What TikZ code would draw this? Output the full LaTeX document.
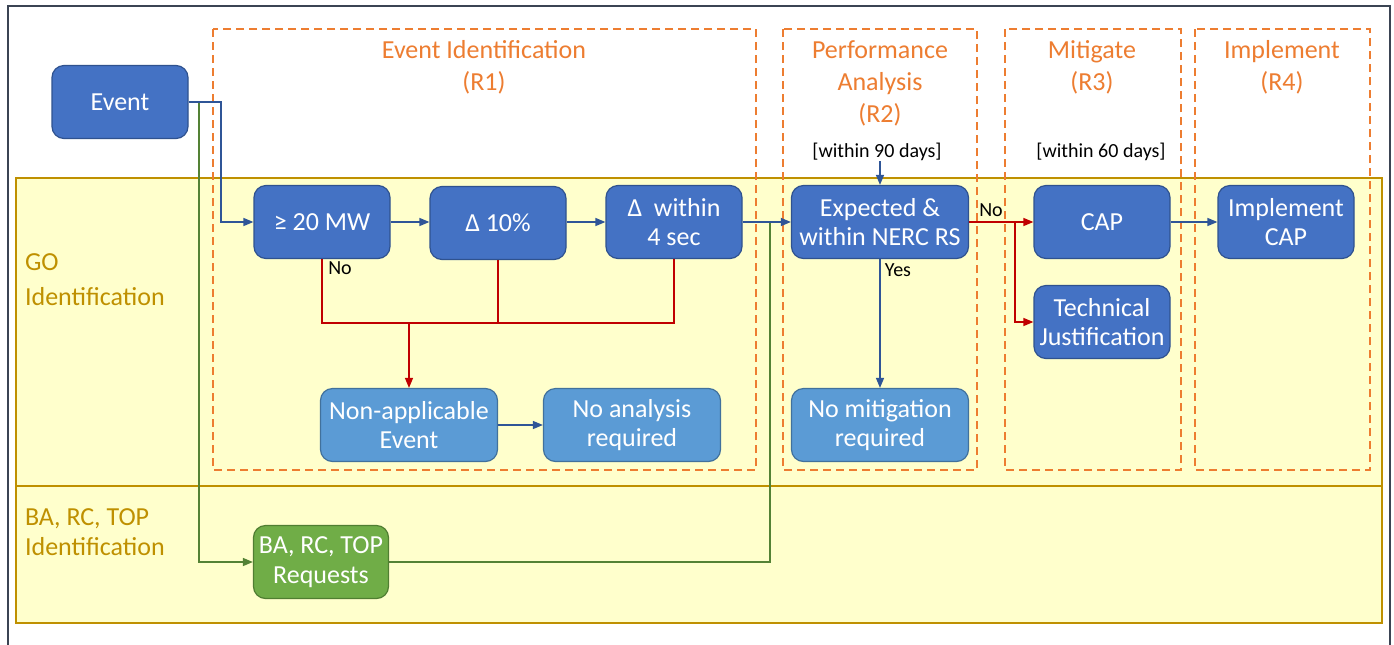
\documentclass[tikz,border=0pt]{standalone}
\usepackage{fontspec}
\setmainfont{Carlito}
\usetikzlibrary{arrows.meta}
\definecolor{nodeblue}{HTML}{4472C4}
\definecolor{nodeborder}{HTML}{2F528F}
\definecolor{lightblue}{HTML}{5B9BD5}
\definecolor{lightborder}{HTML}{41719C}
\definecolor{nodegreen}{HTML}{70AD47}
\definecolor{greenborder}{HTML}{507E32}
\definecolor{laneyellow}{HTML}{FFFFCC}
\definecolor{lanegold}{HTML}{BF9000}
\definecolor{dashorange}{HTML}{ED7D31}
\definecolor{arrowred}{HTML}{C00000}
\definecolor{arrowblue}{HTML}{2F5597}
\definecolor{arrowgreen}{HTML}{548235}
\definecolor{framegray}{HTML}{3B4453}
\begin{document}
\begin{tikzpicture}[x=0.5pt,y=-0.5pt,
  box/.style={rounded corners=6pt, draw=nodeborder, fill=nodeblue, line width=0.6pt,
    text=white, align=center, font=\fontsize{13}{14.8}\selectfont,
    minimum width=68pt, minimum height=36.5pt, inner sep=1pt},
  widebox/.style={box, minimum width=88.5pt},
  lightbox/.style={widebox, fill=lightblue, draw=lightborder},
  greenbox/.style={box, fill=nodegreen, draw=greenborder, minimum width=67.5pt},
  lane/.style={draw=lanegold, fill=laneyellow, line width=1pt},
  phase/.style={draw=dashorange, line width=0.75pt, dash pattern=on 4pt off 2.5pt},
  phasetitle/.style={text=dashorange, align=center, font=\fontsize{13}{16}\selectfont},
  lanetitle/.style={text=lanegold, align=left, anchor=west, font=\fontsize{13}{17.5}\selectfont},
  small/.style={font=\fontsize{10}{11}\selectfont, text=black, inner sep=0pt},
  tip/.style={-{Triangle[length=5pt,width=4pt]}},
  blueline/.style={draw=arrowblue, line width=0.7pt},
  bluearrow/.style={blueline, tip, arrowblue},
  redline/.style={draw=arrowred, line width=0.7pt},
  redarrow/.style={redline, tip, arrowred},
  greenline/.style={draw=arrowgreen, line width=0.7pt},
  greenarrow/.style={greenline, tip, arrowgreen}
]
\useasboundingbox (0,0) rectangle (1394,644);
\fill[white] (0,0) rectangle (1394,644);
% outer frame
\draw[framegray, line width=1.2pt] (8,6) rectangle (1390,680);
% lanes
\draw[lane] (16,178) rectangle (1382,486);
\draw[lane] (16,486) rectangle (1382,623);
\node[lanetitle] (lgo) at (18,280) {GO\\Identification};
\node[lanetitle, font=\fontsize{13}{14.8}\selectfont] (lba) at (18,532) {BA, RC, TOP\\Identification};
% phases
\draw[phase] (213,29) rectangle (756,470);
\draw[phase] (783,29) rectangle (977,470);
\draw[phase] (1005,29) rectangle (1181,470);
\draw[phase] (1195,29) rectangle (1370,470);
\node[phasetitle] (t1) at (484,67) {Event Identification\\(R1)};
\node[phasetitle] (t2) at (880,83) {Performance\\Analysis\\(R2)};
\node[phasetitle] (t3) at (1092,67) {Mitigate\\(R3)};
\node[phasetitle] (t4) at (1282,67) {Implement\\(R4)};
\node[small] (d90) at (877,152) {[within 90 days]};
\node[small] (d60) at (1101,152) {[within 60 days]};
% nodes
\node[box] (event) at (120,102) {Event};
\node[box] (n20) at (322,222) {≥ 20 MW};
\node[box] (n10) at (498,223) {Δ 10\%};
\node[box] (n4) at (674,222) {Δ\ \ within\\4 sec};
\node[widebox] (exp) at (880,222) {Expected \&\\within NERC RS};
\node[box] (cap) at (1102,222) {CAP};
\node[box] (tj) at (1102,322) {Technical\\Justification};
\node[box] (imp) at (1286,222) {Implement\\CAP};
\node[lightbox] (na) at (409,425) {Non-applicable\\Event};
\node[lightbox] (nar) at (632,425) {No analysis\\required};
\node[lightbox] (nmr) at (880,425) {No mitigation\\required};
\node[greenbox] (ba) at (321,562) {BA, RC, TOP\\Requests};
% connectors
\coordinate (gx) at (199,0);
\coordinate (bx) at (221,0);
\coordinate (gj) at (770,0);
\coordinate (rj) at (409,323);
\coordinate (rb) at (1015,0);
\draw[greenarrow] (event.east) -- (gx |- event.east) |- (ba.west);
\draw[greenline] (ba.east) -| (gj |- exp.west);
\draw[bluearrow] (event.east) -- (bx |- event.east) |- (n20.west);
\draw[bluearrow] (n20.east) -- (n10.west |- n20.east);
\draw[bluearrow] (n10.east |- n4.west) -- (n4.west);
\draw[bluearrow] (n4.east) -- (exp.west);
\draw[redline] (n20.south) -- (n20.south |- rj) -- (n4.south |- rj) -- (n4.south);
\draw[redline] (n10.south) -- (n10.south |- rj);
\draw[redarrow] (rj) -- (rj |- na.north);
\draw[bluearrow] (na.east) -- (nar.west);
\draw[bluearrow] (exp.north |- d90.south) -- (exp.north);
\draw[bluearrow] (exp.south) -- (nmr.north);
\draw[redarrow] (exp.east) -- (cap.west);
\draw[redarrow] (rb |- exp.east) |- (tj.west);
\draw[bluearrow] (cap.east) -- (imp.west);
\node[small] (no1) at (340,268) {No};
\node[small] (yes) at (898,270) {Yes};
\node[small] (no2) at (991,210) {No};
\end{tikzpicture}
\end{document}
